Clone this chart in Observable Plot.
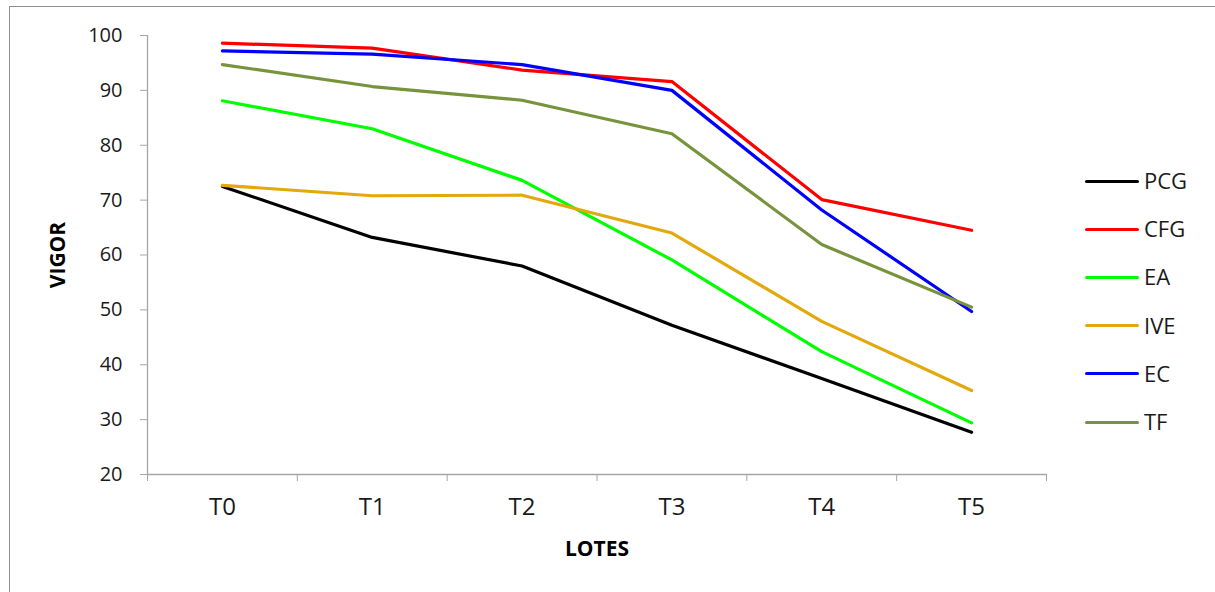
<!DOCTYPE html>
<html>
<head>
<meta charset="utf-8">
<script src="https://cdn.jsdelivr.net/npm/d3@7"></script>
<script src="https://cdn.jsdelivr.net/npm/@observablehq/plot@0.6"></script>
<style>
  html, body { margin: 0; padding: 0; background: #fff; }
  #wrap { position: relative; width: 1215px; height: 592px; overflow: hidden; font-family: "Open Sans", sans-serif; }
  #frame { position: absolute; left: 9px; top: 6px; width: 1220px; height: 600px; border: 1px solid #8f8f8f; box-sizing: border-box; }
  #chart { position: absolute; left: 0; top: 0; }
  #legend { position: absolute; left: 1085px; top: 0; }
  .item { position: absolute; left: 0; height: 0; white-space: nowrap; }
  .item .swatch { position: absolute; left: 0; top: -1.5px; width: 54px; height: 3px; border-radius: 1.5px; }
  .item .name { position: absolute; left: 59px; top: -16px; font-size: 22px; line-height: 30px; color: #1a1a1a; }
</style>
</head>
<body>
<div id="wrap">
  <div id="frame"></div>
  <div id="chart"></div>
  <div id="legend"></div>
</div>
<script>
// Lots on the horizontal axis
const lots = ["T0", "T1", "T2", "T3", "T4", "T5"];

// Vigor per lot for each test
const seriesNames = ["PCG", "CFG", "EA", "IVE", "EC", "TF"];
const seriesColors = ["#000000", "#ff0000", "#00ff00", "#e3a80c", "#0000ff", "#77933c"];
const PCG = [72.5, 63.2, 58.0, 47.2, 37.5, 27.7];
const CFG = [98.6, 97.7, 93.7, 91.6, 70.1, 64.5];
const EA  = [88.1, 83.0, 73.6, 59.1, 42.4, 29.4];
const IVE = [72.7, 70.8, 70.9, 64.0, 47.9, 35.3];
const EC  = [97.2, 96.6, 94.7, 90.0, 68.2, 49.7];
const TF  = [94.7, 90.7, 88.2, 82.1, 61.9, 50.5];

// Vertical axis ticks
const yTicks = [20, 30, 40, 50, 60, 70, 80, 90, 100];

const seriesValues = [PCG, CFG, EA, IVE, EC, TF];
const rows = seriesNames.flatMap((s, k) =>
  seriesValues[k].map((v, i) => ({serie: s, i, lot: lots[i], v}))
);

const axisGray = "#a6a6a6";
const lotIndex = d3.range(lots.length);
const lotBounds = d3.range(lots.length + 1).map(i => i - 0.5);

const chart = Plot.plot({
  width: 1215,
  height: 592,
  marginLeft: 147,
  marginRight: 169,
  marginTop: 35,
  marginBottom: 118,
  style: {fontFamily: "'Open Sans', sans-serif", background: "transparent", color: "#1a1a1a"},
  x: {type: "linear", domain: [-0.5, lots.length - 0.5]},
  y: {domain: [20, 100]},
  color: {domain: seriesNames, range: seriesColors},
  marks: [
    // axis lines
    Plot.ruleY([20], {stroke: axisGray, strokeWidth: 1.3}),
    Plot.ruleX([-0.5], {stroke: axisGray, strokeWidth: 1.3}),
    // y axis ticks and labels
    Plot.axisY({ticks: yTicks, tickSize: 7, tickPadding: 18, stroke: axisGray, fill: "#1a1a1a", fontSize: 20, label: null}),
    // x axis: tick marks between lots, labels centred on lots
    Plot.axisX({ticks: lotBounds, tickSize: 7, tickFormat: () => "", stroke: axisGray, label: null}),
    Plot.axisX({ticks: lotIndex, tickSize: 0, tickPadding: 23, tickFormat: i => lots[i], fill: "#1a1a1a", fontSize: 24, label: null}),
    // axis titles
    Plot.text(["VIGOR"], {frameAnchor: "left", textAnchor: "middle", dx: -89, rotate: -90, fontWeight: "bold", fontSize: 21, fill: "#000"}),
    Plot.text(["LOTES"], {frameAnchor: "bottom", dy: 81, fontWeight: "bold", fontSize: 21, fill: "#000"}),
    // series
    Plot.line(rows, {x: "i", y: "v", z: "serie", stroke: "serie", strokeWidth: 3.2, strokeLinejoin: "round", strokeLinecap: "round"})
  ]
});
document.getElementById("chart").appendChild(chart);

// Legend beside the plot
const legend = document.getElementById("legend");
const legendTop = 181, legendStep = 48.2;
seriesNames.forEach((s, k) => {
  const item = document.createElement("div");
  item.className = "item";
  item.style.top = (legendTop + k * legendStep) + "px";
  const sw = document.createElement("div");
  sw.className = "swatch";
  sw.style.background = seriesColors[k];
  const nm = document.createElement("div");
  nm.className = "name";
  nm.textContent = s;
  item.appendChild(sw);
  item.appendChild(nm);
  legend.appendChild(item);
});
</script>
</body>
</html>
